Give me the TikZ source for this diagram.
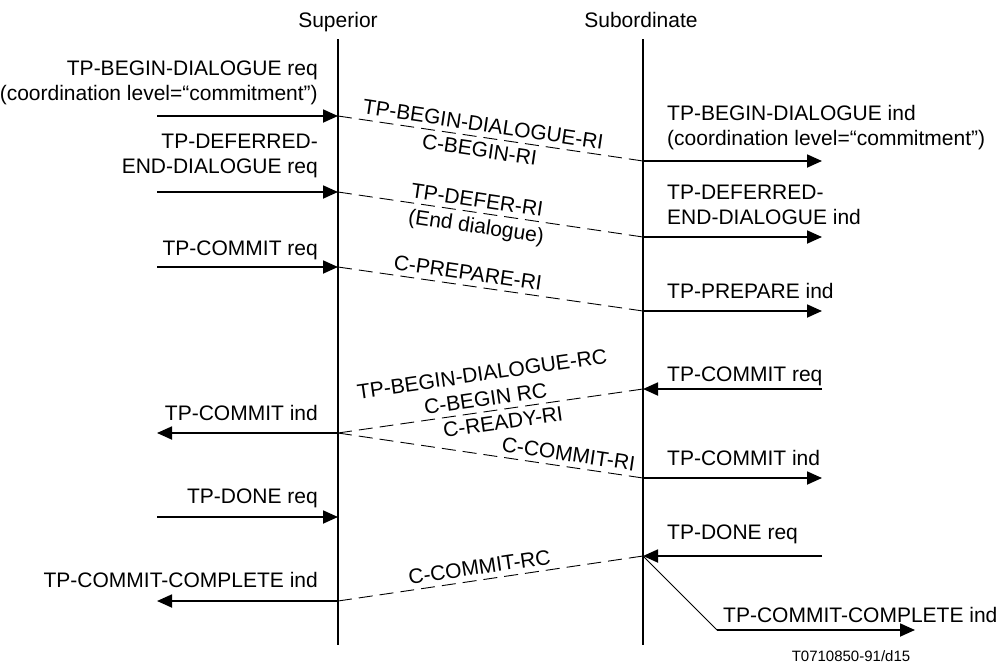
\documentclass[tikz,border=0pt]{standalone}
\usepackage{fontspec}
\setmainfont{Liberation Sans}
\usetikzlibrary{arrows.meta}

\begin{document}
\begin{tikzpicture}[x=1pt, y=-1pt,
  every node/.style={font=\fontsize{21}{25}\selectfont, inner sep=0pt},
  life/.style={line width=1.8pt},
  prim/.style={line width=1.8pt, -{Triangle[length=15pt,width=13pt]}},
  conf/.style={line width=0.9pt, dash pattern=on 14pt off 7pt},
  lbl/.style={sloped, inner sep=5pt}]
  \useasboundingbox (0,0) rectangle (1005,664);

  % the two stations
  \node[anchor=base] (sup) at (338,27) {Superior};
  \node[anchor=base] (sub) at (641,27) {Subordinate};
  \coordinate (suptop) at (338,39);
  \coordinate (supbot) at (338,645);
  \coordinate (subtop) at (643,39);
  \coordinate (subbot) at (643,645);
  \draw[life] (suptop) -- (supbot);
  \draw[life] (subtop) -- (subbot);

  % event points
  \foreach \n/\y in {1/116,2/192,3/267,4/433,5/517,6/601} {
    \coordinate (s\n) at (338,\y);
    \coordinate (l\n) at (157,\y);
  }
  \foreach \n/\y in {1/161,2/237,3/311,4/389,5/478,6/556} {
    \coordinate (u\n) at (643,\y);
    \coordinate (r\n) at (822,\y);
  }
  \coordinate (bend) at (717,630);
  \coordinate (fin) at (915,630);

  % superior side primitives
  \draw[prim] (l1) -- (s1);
  \draw[prim] (l2) -- (s2);
  \draw[prim] (l3) -- (s3);
  \draw[prim] (s4) -- (l4);
  \draw[prim] (l5) -- (s5);
  \draw[prim] (s6) -- (l6);
  \node[anchor=base east, align=right] (beginreq) at (318,100)
    {TP-BEGIN-DIALOGUE req\\(coordination level=“commitment”)};
  \node[anchor=base east, align=right] (deferreq) at (318,173)
    {TP-DEFERRED-\\END-DIALOGUE req};
  \node[anchor=base east] (commitreq) at (318,255) {TP-COMMIT req};
  \node[anchor=base east] (commitind) at (318,420) {TP-COMMIT ind};
  \node[anchor=base east] (donereq) at (318,503) {TP-DONE req};
  \node[anchor=base east] (completeind) at (318,587) {TP-COMMIT-COMPLETE ind};

  % subordinate side primitives
  \draw[prim] (u1) -- (r1);
  \draw[prim] (u2) -- (r2);
  \draw[prim] (u3) -- (r3);
  \draw[prim] (r4) -- (u4);
  \draw[prim] (u5) -- (r5);
  \draw[prim] (r6) -- (u6);
  \draw[line width=0.9pt] (u6) -- (bend);
  \draw[prim] (bend) -- (fin);
  \node[anchor=base west, align=left] (beginind) at (667,145)
    {TP-BEGIN-DIALOGUE ind\\(coordination level=“commitment”)};
  \node[anchor=base west, align=left] (deferind) at (667,224)
    {TP-DEFERRED-\\END-DIALOGUE ind};
  \node[anchor=base west] (prepareind) at (667,298) {TP-PREPARE ind};
  \node[anchor=base west] (subcommitreq) at (667,381) {TP-COMMIT req};
  \node[anchor=base west] (subcommitind) at (667,465) {TP-COMMIT ind};
  \node[anchor=base west] (subdonereq) at (667,539) {TP-DONE req};
  \node[anchor=base west] (subcompleteind) at (723,622) {TP-COMMIT-COMPLETE ind};

  % protocol messages
  \draw[conf] (s1) -- node[lbl, pos=0.47, above] (bdri) {TP-BEGIN-DIALOGUE-RI}
    node[lbl, pos=0.47, below] (cbri) {C-BEGIN-RI} (u1);
  \draw[conf] (s2) -- node[lbl, pos=0.45, above] (deferri) {TP-DEFER-RI}
    node[lbl, pos=0.46, below] (enddlg) {(End dialogue)} (u2);
  \draw[conf] (s3) -- node[lbl, pos=0.42, above] (prepri) {C-PREPARE-RI} (u3);
  \draw[conf] (s4) -- node[lbl, pos=0.49, above, align=center] (bdrc)
    {TP-BEGIN-DIALOGUE-RC\\C-BEGIN RC}
    node[lbl, pos=0.535, below] (readyri) {C-READY-RI} (u4);
  \draw[conf] (s4) -- node[lbl, pos=0.75, above] (commitri) {C-COMMIT-RI} (u5);
  \draw[conf] (s6) -- node[lbl, pos=0.47, above] (commitrc) {C-COMMIT-RC} (u6);

  \node[anchor=base, font=\fontsize{15}{18}\selectfont] (ref) at (851,661) {T0710850-91/d15};
\end{tikzpicture}
\end{document}
